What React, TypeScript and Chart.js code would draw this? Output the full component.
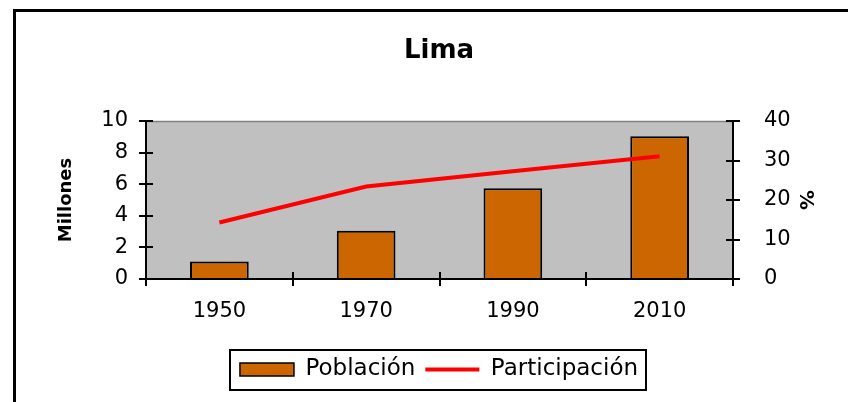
import React, { useEffect, useRef } from 'react';
import { Chart, registerables } from 'chart.js';

Chart.register(...registerables);

const categories = ['1950', '1970', '1990', '2010'];
const poblacion = [1.1, 3.05, 5.75, 9.03];
const participacion = [14.3, 23.4, 27.3, 31.1];
const leftTicks = [0, 2, 4, 6, 8, 10];
const rightTicks = [0, 10, 20, 30, 40];
const chartTitle = 'Lima';
const leftAxisTitle = 'Millones';
const rightAxisTitle = '%';
const seriesNames = ['Población', 'Participación'];

const FONT = 'DejaVu Sans';
const BAR_COLOR = '#CC6600';
const LINE_COLOR = '#FF0000';

const decorPlugin = {
  id: 'decor',
  beforeDraw(chart: any) {
    const { ctx, chartArea: a } = chart;
    ctx.save();
    ctx.fillStyle = '#C0C0C0';
    ctx.fillRect(a.left, a.top, a.right - a.left, a.bottom - a.top);
    ctx.strokeStyle = '#808080';
    ctx.lineWidth = 1.5;
    ctx.beginPath();
    ctx.moveTo(a.left, a.top + 0.5);
    ctx.lineTo(a.right, a.top + 0.5);
    ctx.stroke();
    ctx.restore();
  },
  afterDraw(chart: any) {
    const { ctx, chartArea: a, scales } = chart;
    ctx.save();
    ctx.strokeStyle = '#000';
    ctx.lineWidth = 2;
    const L = 7;
    ctx.beginPath();
    leftTicks.forEach((v) => {
      const y = Math.round(scales.y.getPixelForValue(v));
      ctx.moveTo(a.left, y);
      ctx.lineTo(a.left + L, y);
    });
    rightTicks.forEach((v) => {
      const y = Math.round(scales.y1.getPixelForValue(v));
      ctx.moveTo(a.right, y);
      ctx.lineTo(a.right - L, y);
    });
    for (let i = 0; i <= categories.length; i++) {
      const x = Math.round(scales.x.getPixelForValue(i - 0.5));
      ctx.moveTo(x, a.bottom);
      ctx.lineTo(x, a.bottom - L);
    }
    ctx.stroke();
    const lg = chart.legend;
    if (lg && lg.legendHitBoxes && lg.legendHitBoxes.length) {
      const hb = lg.legendHitBoxes;
      const first = hb[0];
      const last = hb[hb.length - 1];
      const x0 = first.left - 10;
      const x1 = last.left + last.width + 8;
      const cy = first.top + first.height / 2;
      ctx.lineWidth = 2;
      ctx.strokeRect(Math.round(x0), Math.round(cy - 20), Math.round(x1 - x0), 40);
    }
    ctx.restore();
  },
};

export default function App() {
  const ref = useRef<HTMLCanvasElement>(null);

  useEffect(() => {
    if (!ref.current) return;
    const chart = new Chart(ref.current, {
      type: 'bar',
      data: {
        labels: categories,
        datasets: [
          {
            type: 'bar',
            label: seriesNames[0],
            data: poblacion,
            backgroundColor: BAR_COLOR,
            borderColor: '#000',
            borderWidth: 2,
            barPercentage: 0.4,
            categoryPercentage: 1,
            yAxisID: 'y',
            order: 2,
          } as any,
          {
            type: 'line',
            label: seriesNames[1],
            data: participacion,
            borderColor: LINE_COLOR,
            backgroundColor: LINE_COLOR,
            borderWidth: 4,
            pointRadius: 0,
            tension: 0,
            fill: false,
            yAxisID: 'y1',
            order: 1,
          } as any,
        ],
      },
      options: {
        responsive: false,
        animation: false,
        layout: { padding: 0 },
        plugins: {
          tooltip: { enabled: false },
          title: {
            display: true,
            text: chartTitle,
            color: '#000',
            font: { family: FONT, size: 26, weight: 'bold' },
            padding: { top: 23.4, bottom: 54.4 },
          },
          legend: {
            position: 'bottom',
            labels: {
              usePointStyle: true,
              pointStyleWidth: 54,
              boxHeight: 13,
              padding: 10,
              color: '#000',
              font: { family: FONT, size: 23 },
              generateLabels: (c: any) =>
                c.data.datasets.map((ds: any, i: number) => ({
                  text: ds.label,
                  datasetIndex: i,
                  fillStyle: i === 0 ? BAR_COLOR : LINE_COLOR,
                  strokeStyle: i === 0 ? '#000' : LINE_COLOR,
                  lineWidth: i === 0 ? 1.5 : 4,
                  pointStyle: i === 0 ? 'rect' : 'line',
                  hidden: false,
                  fontColor: '#000',
                })),
            },
          },
        },
        scales: {
          x: {
            type: 'category',
            offset: true,
            grid: {
              offset: true,
              drawOnChartArea: false,
              drawTicks: true,
              tickLength: 7,
              color: '#000',
              lineWidth: 2,
            },
            border: { display: true, color: '#000', width: 2 },
            ticks: { color: '#000', font: { family: FONT, size: 21 }, padding: 13, maxRotation: 0 },
            afterFit: (s: any) => {
              s.height = 69;
            },
          },
          y: {
            position: 'left',
            min: leftTicks[0],
            max: leftTicks[leftTicks.length - 1],
            ticks: {
              stepSize: leftTicks[1] - leftTicks[0],
              color: '#000',
              font: { family: FONT, size: 21 },
              padding: 11,
            },
            grid: {
              drawOnChartArea: false,
              drawTicks: true,
              tickLength: 7,
              color: '#000',
              lineWidth: 2,
            },
            border: { display: true, color: '#000', width: 2 },
            title: {
              display: true,
              text: leftAxisTitle,
              color: '#000',
              font: { family: FONT, size: 18, weight: 'bold' },
              padding: { top: 40, bottom: 0 },
            },
            afterFit: (s: any) => {
              s.width = 130;
            },
          },
          y1: {
            position: 'right',
            min: rightTicks[0],
            max: rightTicks[rightTicks.length - 1],
            ticks: {
              stepSize: rightTicks[1] - rightTicks[0],
              color: '#000',
              font: { family: FONT, size: 21 },
              padding: 24,
            },
            grid: {
              drawOnChartArea: false,
              drawTicks: true,
              tickLength: 7,
              color: '#000',
              lineWidth: 2,
            },
            border: { display: true, color: '#000', width: 2 },
            title: {
              display: true,
              text: rightAxisTitle,
              color: '#000',
              font: { family: FONT, size: 20, weight: 'bold' },
              padding: { top: 45, bottom: 0 },
            },
            afterFit: (s: any) => {
              s.width = 129;
            },
          },
        },
      } as any,
      plugins: [decorPlugin],
    });
    return () => chart.destroy();
  }, []);

  return (
    <div
      style={{
        position: 'fixed',
        left: 0,
        top: 0,
        width: 848,
        height: 402,
        overflow: 'hidden',
        background: '#fff',
      }}
    >
      <div
        style={{
          position: 'absolute',
          left: 13,
          top: 9,
          width: 900,
          height: 500,
          border: '3px solid #000',
          boxSizing: 'border-box',
        }}
      />
      <canvas
        ref={ref}
        width={846}
        height={379}
        style={{ position: 'absolute', left: 16, top: 12, display: 'block' }}
      />
    </div>
  );
}
